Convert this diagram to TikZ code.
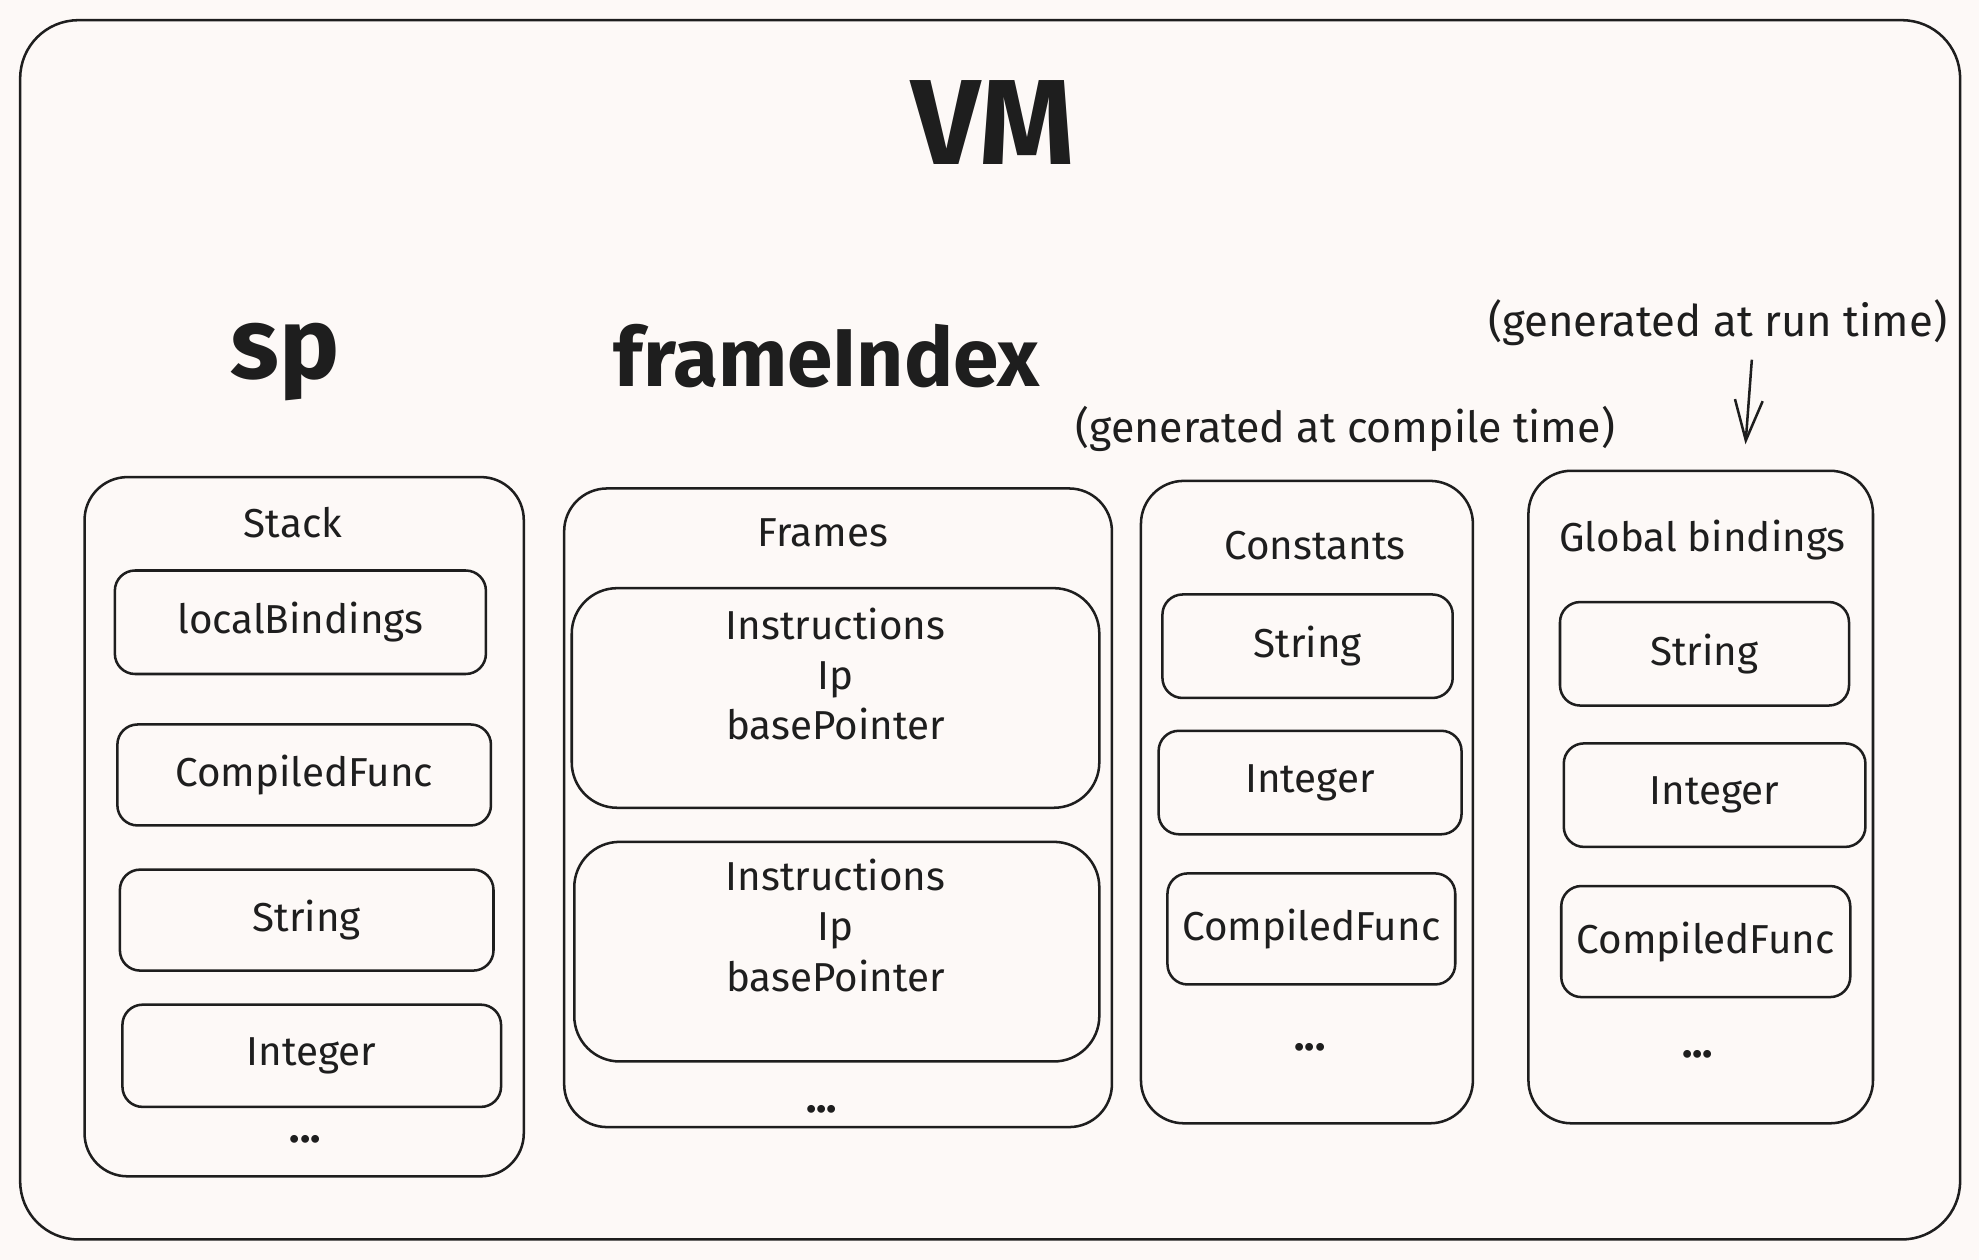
\documentclass[tikz,border=0pt]{standalone}
\usepackage{fontspec}
\setmainfont{Fira Sans}
\usetikzlibrary{arrows.meta}
\definecolor{bg}{RGB}{253,249,247}
\definecolor{ink}{RGB}{30,30,30}
\begin{document}
\begin{tikzpicture}[x=0.5pt,y=-0.5pt,
  lbl/.style={text=ink, font=\fontsize{16}{20}\selectfont, align=center, inner sep=0pt},
  bigtitle/.style={text=ink, inner sep=0pt},
  itembox/.style={draw=ink, line width=1pt, rounded corners=8pt, inner sep=0pt, outer sep=0pt, lbl},
  colbox/.style={draw=ink, line width=1pt, rounded corners=17pt, inner sep=0pt, outer sep=0pt},
  framebox/.style={draw=ink, line width=1pt, rounded corners=18pt, inner sep=0pt, outer sep=0pt},
  dots/.style={text=ink, font=\fontsize{17}{20}\selectfont\bfseries, inner sep=0pt},
  arr/.style={draw=ink, line width=1pt, -{Straight Barb[length=16pt,width=11pt,line width=1pt]}}
]
\fill[bg] (0,0) rectangle (1568,998);
\useasboundingbox (0,0) rectangle (1568,998);

% VM frame
\node[colbox, rounded corners=23pt, minimum width=768.5pt, minimum height=483pt] (vm) at (784.5,499) {};
\node[bigtitle, font=\fontsize{48}{52}\selectfont\bfseries] (vmt) at (787,97) {VM};
\node[bigtitle, font=\fontsize{40}{44}\selectfont\bfseries] (sp) at (226,287) {sp};
\node[bigtitle, font=\fontsize{32.5}{36}\selectfont\bfseries] (fi) at (655,282) {frameIndex};

% annotations
\node[lbl, font=\fontsize{17}{20}\selectfont] (comp) at (1066,340) {(generated at compile time)};
\node[lbl, font=\fontsize{17.3}{20}\selectfont] (run) at (1361,256) {(generated at run time)};

% Stack column
\node[colbox, minimum width=174pt, minimum height=277pt] (stack) at (241,655) {};
\node[lbl] (stackt) at (232,414) {Stack};
\node[itembox, minimum width=147pt, minimum height=41pt] (slb) at (238,493) {localBindings};
\node[itembox, minimum width=148pt, minimum height=40pt] (scf) at (241,614) {CompiledFunc};
\node[itembox, minimum width=148pt, minimum height=40pt] (sstr) at (243,729) {String};
\node[itembox, minimum width=150pt, minimum height=40.5pt] (sint) at (247,836.5) {Integer};
\node[dots] (sdots) at (242,903) {...};

% Frames column
\node[colbox, minimum width=217pt, minimum height=253pt] (frames) at (664,640) {};
\node[lbl] (framest) at (652,422) {Frames};
\node[framebox, minimum width=209pt, minimum height=87pt] (f1) at (662,553) {};
\node[lbl] (f1t) at (662,534) {Instructions\\Ip\\basePointer};
\node[framebox, minimum width=208pt, minimum height=87pt] (f2) at (663,754) {};
\node[lbl] (f2t) at (662,733) {Instructions\\Ip\\basePointer};
\node[dots] (fdots) at (651,879) {...};

% Constants column
\node[colbox, minimum width=131.5pt, minimum height=254.5pt] (const) at (1035.5,635.5) {};
\node[lbl] (constt) at (1042,432) {Constants};
\node[itembox, minimum width=115pt, minimum height=41pt] (cstr) at (1036,512) {String};
\node[itembox, minimum width=120pt, minimum height=41pt] (cint) at (1038,620) {Integer};
\node[itembox, minimum width=114pt, minimum height=44pt] (ccf) at (1039,736) {CompiledFunc};
\node[dots] (cdots) at (1038,830) {...};

% Global bindings column
\node[colbox, minimum width=136.5pt, minimum height=258.5pt] (glob) at (1347.5,631.5) {};
\node[lbl] (globt) at (1349,428) {Global bindings};
\node[itembox, minimum width=114.5pt, minimum height=41pt] (gstr) at (1350.5,518) {String};
\node[itembox, minimum width=119.5pt, minimum height=41pt] (gint) at (1358.5,630) {Integer};
\node[itembox, minimum width=114.5pt, minimum height=44pt] (gcf) at (1351.5,746) {CompiledFunc};
\node[dots] (gdots) at (1345,835) {...};

% arrow
\coordinate (arrS) at (1388,285);
\coordinate (arrE) at (1383,352);
\draw[arr] (arrS) -- (arrE);
\end{tikzpicture}
\end{document}
